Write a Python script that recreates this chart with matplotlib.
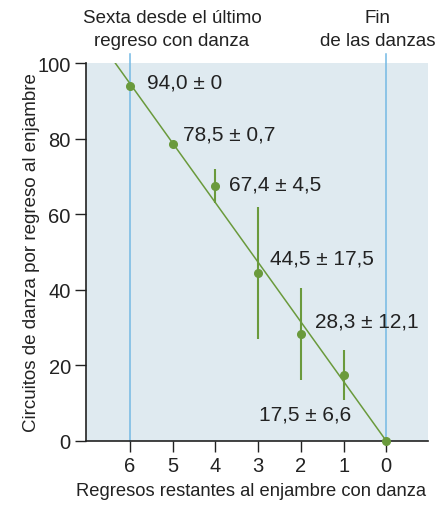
import numpy as np
import matplotlib
matplotlib.use('Agg')
import matplotlib.pyplot as plt

plt.rcParams['font.family'] = ['Liberation Sans', 'DejaVu Sans']

# Regresos restantes y circuitos de danza (media ± desviación)
regresos = [6, 5, 4, 3, 2, 1, 0]
circuitos = [94.0, 78.5, 67.4, 44.5, 28.3, 17.5, 0.0]
desviacion = [0.0, 0.7, 4.5, 17.5, 12.1, 6.6, 0.0]
etiquetas = ['94,0 ± 0', '78,5 ± 0,7', '67,4 ± 4,5', '44,5 ± 17,5',
             '28,3 ± 12,1', '17,5 ± 6,6']
pos_etiquetas = [(5.6, 95.0), (4.76, 81.2), (3.68, 68.0), (2.72, 48.4),
                 (1.67, 31.7), (2.98, 7.1)]

verde = '#6a9a3c'
azul = '#74b9e4'
fondo = '#dfeaf0'
texto = '#222222'

fig = plt.figure(figsize=(4.46, 5.06), dpi=100)
ax = fig.add_axes([0.193, 0.1265, 0.767, 0.747])
ax.set_facecolor(fondo)

# recta de regresión por el origen
x = np.array(regresos, dtype=float)
y = np.array(circuitos)
pend = (x * y).sum() / (x * x).sum()
xr = np.array([6.35, 0.0])
ax.plot(xr, pend * xr, color=verde, lw=1.1, zorder=3)

# líneas de referencia (sexta y fin)
for xv in (6, 0):
    ax.plot([xv, xv], [0, 102.5], color=azul, lw=1.1, zorder=2, clip_on=False)

ax.errorbar(regresos, circuitos, yerr=desviacion, fmt='o', color=verde,
            ms=5.5, elinewidth=1.5, capsize=0, zorder=4, clip_on=False)

for txt, (xt, yt) in zip(etiquetas, pos_etiquetas):
    ax.text(xt, yt, txt, fontsize=15, color=texto, ha='left', va='center')

ax.set_xlim(7.03, -0.98)
ax.set_ylim(0, 100)
ax.set_xticks(regresos)
ax.set_yticks([0, 20, 40, 60, 80, 100])
ax.tick_params(labelsize=14.5, length=8, width=1, colors=texto, pad=3)
for s in ('top', 'right'):
    ax.spines[s].set_visible(False)
for s in ('left', 'bottom'):
    ax.spines[s].set_linewidth(1.2)
    ax.spines[s].set_color(texto)

ax.set_xlabel('Regresos restantes al enjambre con danza', fontsize=13.2,
              color=texto)
ax.set_ylabel('Circuitos de danza por regreso al enjambre', fontsize=13.5,
              color=texto)
ax.xaxis.set_label_coords(0.4825, -0.108)
ax.yaxis.set_label_coords(-0.135, 0.5)

ax.text(5.02, 1.09, 'Sexta desde el último\nregreso con danza',
        transform=ax.get_xaxis_transform(), ha='center', va='center',
        fontsize=13.5, color=texto, linespacing=1.5)
ax.text(0.2, 1.09, 'Fin\nde las danzas', transform=ax.get_xaxis_transform(),
        ha='center', va='center', fontsize=13.5, color=texto,
        linespacing=1.5)

fig.savefig('out.png', dpi=100)
